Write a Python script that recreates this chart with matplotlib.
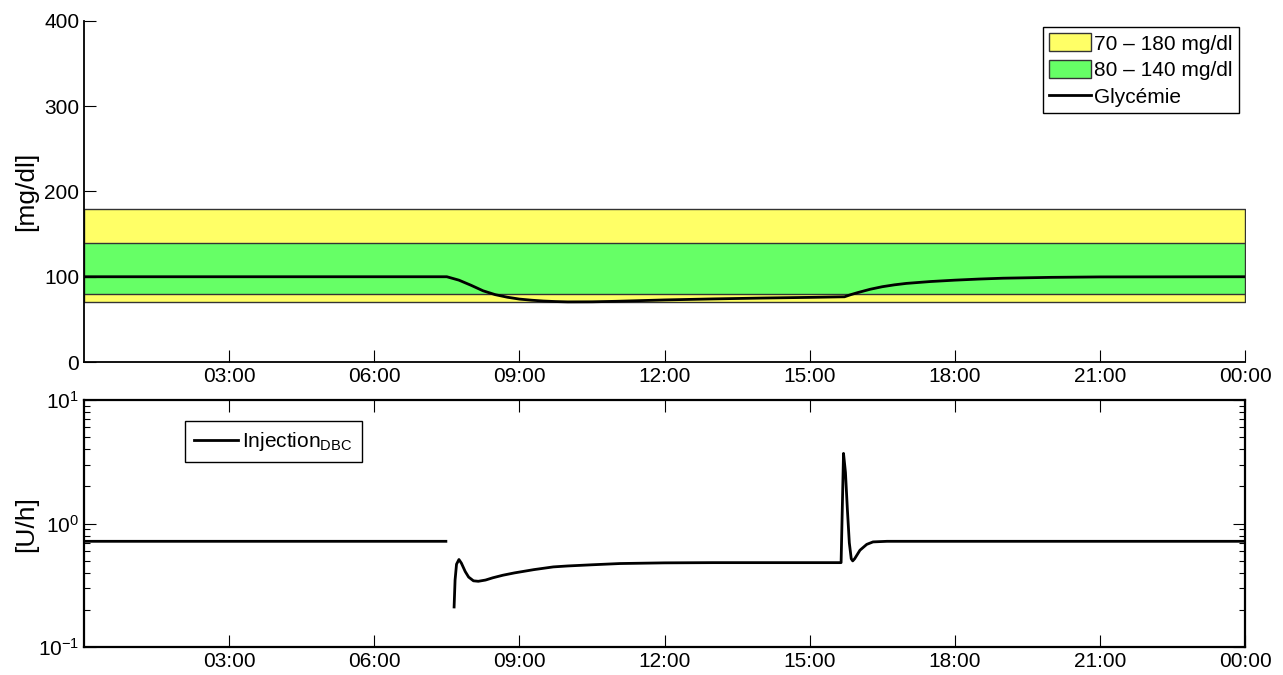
"""
Glycemie + injection DBC sur 24 h
"""

import numpy as np
import matplotlib.pyplot as plt

plt.rcParams['font.family'] = ['Liberation Sans', 'DejaVu Sans']
plt.rcParams['mathtext.fontset'] = 'custom'
plt.rcParams['mathtext.rm'] = 'Liberation Sans'
plt.rcParams['mathtext.it'] = 'Liberation Sans'
plt.rcParams['font.size'] = 15

# Data (heures depuis minuit)
tick_hours = [3, 6, 9, 12, 15, 18, 21, 24]
tick_labels = ['03:00', '06:00', '09:00', '12:00', '15:00', '18:00', '21:00', '00:00']

band_hours = [0, 24]
band_wide = [70, 180]
band_narrow = [80, 140]

gly_hours = [0, 7.5, 7.75, 8.0, 8.25, 8.5, 8.75, 9.0, 9.25, 9.5, 9.75, 10.0, 10.5, 11.0, 12.0,
             13.0, 14.0, 15.0, 15.72, 15.85, 16.0, 16.25, 16.5, 16.75, 17.0, 17.5, 18.0, 18.5,
             19.0, 20.0, 21.0, 24.0]
gly_values = [100, 100, 96, 90, 83.5, 79, 76, 73.8, 72.5, 71.5, 70.9, 70.5, 70.6, 71.2, 72.8,
              74.0, 75.0, 75.8, 76.5, 79, 81.5, 85.3, 88.3, 90.5, 92.2, 94.4, 96.0, 97.3,
              98.3, 99.3, 99.8, 100]

inj_hours = [0, 7.48, 7.56, 7.65, 7.67, 7.70, 7.75, 7.80, 7.88, 7.95, 8.05, 8.15, 8.3, 8.45,
             8.66, 8.9, 9.3, 9.7, 10.0, 10.5, 11.08, 12.0, 13.0, 15.65, 15.70, 15.74, 15.78,
             15.82, 15.86, 15.89, 15.93, 16.04, 16.18, 16.31, 16.6, 24.0]
inj_values = [0.72, 0.72, np.nan, 0.212, 0.35, 0.47, 0.513, 0.48, 0.41, 0.37, 0.345, 0.342,
              0.35, 0.365, 0.383, 0.40, 0.425, 0.447, 0.455, 0.465, 0.476, 0.482, 0.484,
              0.484, 3.7, 2.6, 1.3, 0.7, 0.52, 0.5, 0.52, 0.61, 0.68, 0.712, 0.72, 0.72]

fig = plt.figure(figsize=(12.83, 6.75), dpi=100)
ax1 = fig.add_axes([0.0655, 0.4637, 0.9049, 0.5052])
ax2 = fig.add_axes([0.0655, 0.0410, 0.9049, 0.3664])

# Graphe du haut
ax1.fill_between(band_hours, [band_wide[0]] * 2, [band_wide[1]] * 2,
                 facecolor='#ffff66', edgecolor='#333333', linewidth=1, label='70 – 180 mg/dl')
ax1.fill_between(band_hours, [band_narrow[0]] * 2, [band_narrow[1]] * 2,
                 facecolor='#66ff66', edgecolor='#333333', linewidth=1, label='80 – 140 mg/dl')
ax1.plot(gly_hours, gly_values, color='k', linewidth=2.0, label='Glycémie')
ax1.set_xlim(0, 24)
ax1.set_ylim(0, 400)
ax1.set_yticks([0, 100, 200, 300, 400])
ax1.set_xticks(tick_hours)
ax1.set_xticklabels(tick_labels)
ax1.set_ylabel('[mg/dl]', fontsize=19, labelpad=4)
ax1.spines['top'].set_visible(False)
ax1.spines['right'].set_visible(False)
for s in ['left', 'bottom']:
    ax1.spines[s].set_linewidth(1.3)
ax1.tick_params(direction='in', length=8.5, width=0.8)
leg1 = ax1.legend(loc='upper right', bbox_to_anchor=(0.9945, 0.982), fancybox=False,
                  edgecolor='k', framealpha=1, handlelength=2.0, handleheight=0.95,
                  labelspacing=0.32, borderpad=0.3, handletextpad=0.15, borderaxespad=0)
leg1.get_frame().set_linewidth(1.0)

# Graphe du bas
ax2.plot(inj_hours, inj_values, color='k', linewidth=2.0, label='Injection$_{\\mathrm{DBC}}$')
ax2.set_yscale('log')
ax2.set_xlim(0, 24)
ax2.set_ylim(0.1, 10)
ax2.set_xticks(tick_hours)
ax2.set_xticklabels(tick_labels)
ax2.set_ylabel('[U/h]', fontsize=19, labelpad=0)
for s in ax2.spines.values():
    s.set_linewidth(1.6)
ax2.tick_params(which='major', direction='in', length=8.5, width=0.8, top=True, right=True)
ax2.tick_params(which='minor', direction='in', length=4.5, width=0.8, top=True, right=True)
leg2 = ax2.legend(loc='upper left', bbox_to_anchor=(0.087, 0.917), fancybox=False,
                  edgecolor='k', framealpha=1, handlelength=2.1, borderpad=0.45,
                  handletextpad=0.2, borderaxespad=0)
leg2.get_frame().set_linewidth(1.0)

fig.savefig('out.png', dpi=100)
